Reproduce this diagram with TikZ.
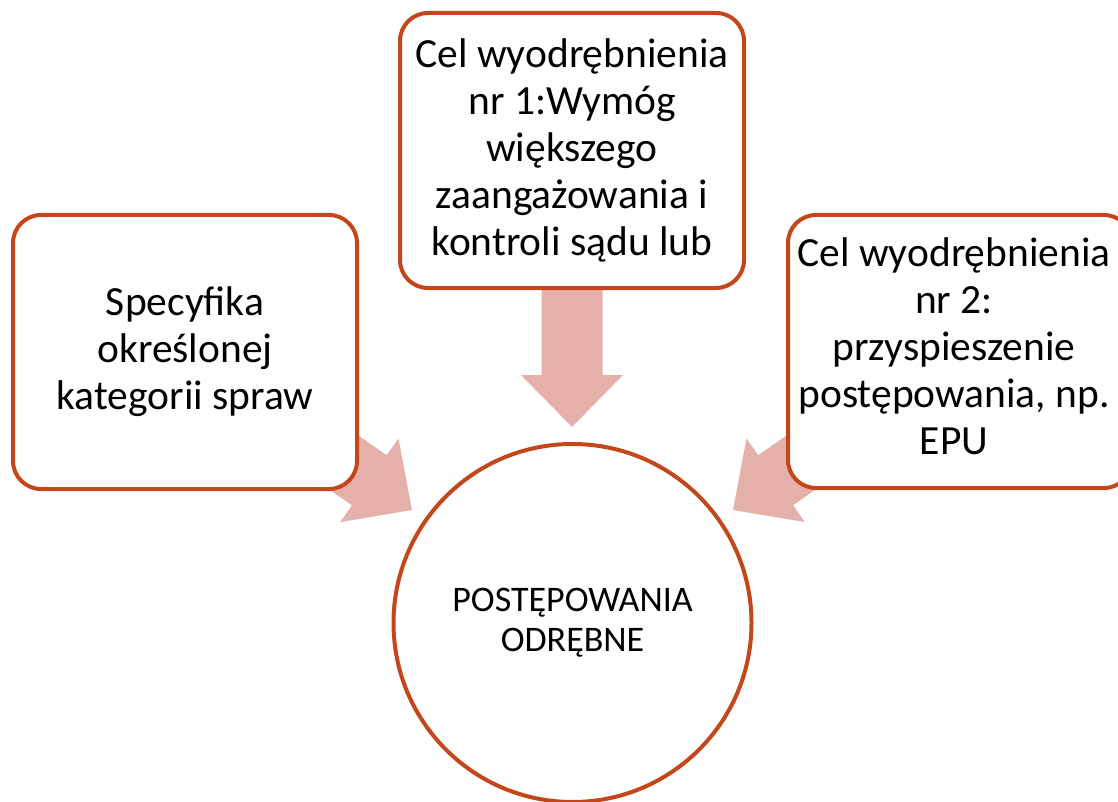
\documentclass[tikz,border=0pt]{standalone}
\usepackage{fontspec}
\setmainfont{Carlito}
\usetikzlibrary{calc}
\definecolor{bordercol}{HTML}{C4461B}
\definecolor{arrowcol}{HTML}{E6B0AA}
\tikzset{
  x=1pt, y=-1pt,
  box/.style={draw=bordercol, line width=4pt, fill=white, rounded corners=28pt,
    minimum width=344pt, minimum height=274pt, align=center, inner sep=0pt,
    font=\fontsize{41.5}{47}\selectfont},
  hub/.style={draw=bordercol, line width=4pt, fill=white, circle, minimum size=358pt,
    align=center, inner sep=0pt, font=\fontsize{36}{40}\selectfont},
}
% fat arrow from node centre #1 to tip coordinate #2
\newcommand\fatarrow[2]{%
  \fill[arrowcol]
    ($(#1)!30.5pt!-90:(#2)$) --
    ($($(#2)!52pt!(#1)$)!30.5pt!-90:(#2)$) --
    ($($(#2)!52pt!(#1)$)!51pt!-90:(#2)$) --
    (#2) --
    ($($(#2)!52pt!(#1)$)!51pt!90:(#2)$) --
    ($($(#2)!52pt!(#1)$)!30.5pt!90:(#2)$) --
    ($(#1)!30.5pt!90:(#2)$) -- cycle;}
\begin{document}
\begin{tikzpicture}
\useasboundingbox (0,0) rectangle (1118,802);
\clip (0,0) rectangle (1118,802);
\coordinate (ctop) at (572,150.5);
\coordinate (cleft) at (185,352);
\coordinate (cright) at (960,351.5);
\coordinate (ttop) at (572,427);
\coordinate (tleft) at (412,510);
\coordinate (tright) at (733,510);
\fatarrow{ctop}{ttop}
\fatarrow{cleft}{tleft}
\fatarrow{cright}{tright}
\node[box, minimum height=275pt] (top) at (ctop) {Cel wyodrębnienia\\nr 1:Wymóg\\większego\\zaangażowania i\\kontroli sądu lub};
\node[box] (left) at (cleft) {Specyfika\\określonej\\kategorii spraw};
\node[box, minimum height=273pt] (right) at (cright) {\hspace*{-12pt}\begin{tabular}{@{}c@{}}Cel wyodrębnienia\\nr 2:\\przyspieszenie\\postępowania, np.\\EPU\end{tabular}};
\node[hub] (hub) at (572.5,623) {POSTĘPOWANIA\\ODRĘBNE};
\end{tikzpicture}
\end{document}
